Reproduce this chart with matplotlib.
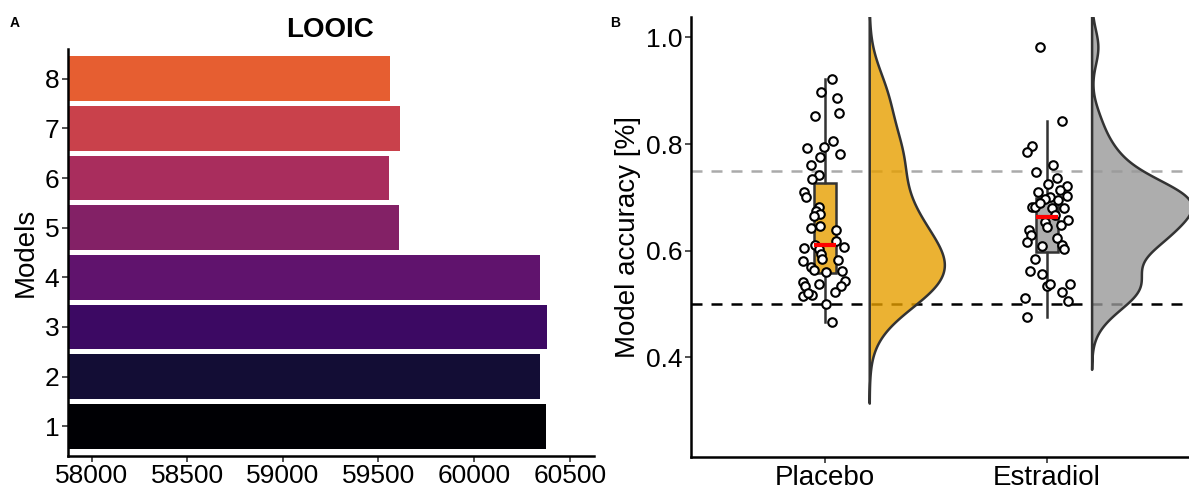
import numpy as np
import matplotlib.pyplot as plt
from matplotlib.colors import to_rgba

plt.rcParams["font.family"] = ["Liberation Sans", "DejaVu Sans"]

# --- panel A: LOOIC per model ---
models = [1, 2, 3, 4, 5, 6, 7, 8]
looic = [60377, 60344, 60383, 60344, 59606, 59555, 59611, 59560]
bar_colors = ["#000004", "#130D35", "#3C0963", "#60136D",
              "#832166", "#A92D5D", "#C9414B", "#E65E31"]

# --- panel B: model accuracy per subject ---
groups = ["Placebo", "Estradiol"]
group_colors = ["#E69F00", "#999999"]
placebo = [0.922, 0.897, 0.887, 0.859, 0.853, 0.805, 0.794, 0.793, 0.781, 0.776,
           0.761, 0.742, 0.734, 0.709, 0.700, 0.681, 0.674, 0.668, 0.665, 0.643,
           0.646, 0.639, 0.611, 0.617, 0.604, 0.603, 0.594, 0.585, 0.607, 0.581,
           0.583, 0.569, 0.564, 0.560, 0.561, 0.541, 0.534, 0.537, 0.542, 0.534,
           0.522, 0.515, 0.516, 0.520, 0.500, 0.465]
estradiol = [0.982, 0.843, 0.797, 0.785, 0.761, 0.747, 0.737, 0.725, 0.721, 0.709,
             0.713, 0.703, 0.700, 0.697, 0.695, 0.682, 0.681, 0.679, 0.679, 0.654,
             0.645, 0.648, 0.657, 0.639, 0.629, 0.616, 0.623, 0.609, 0.610, 0.602,
             0.584, 0.562, 0.556, 0.533, 0.538, 0.537, 0.522, 0.510, 0.506, 0.476,
             0.689, 0.667]
# horizontal jitter of the points
placebo_jit = [0.032, -0.016, 0.053, 0.063, -0.045, 0.038, -0.003, -0.080, 0.068, -0.023,
               -0.063, -0.024, -0.058, -0.091, -0.086, -0.028, -0.040, -0.023, -0.048, -0.063,
               -0.023, 0.052, -0.043, 0.051, -0.095, -0.027, -0.019, -0.014, 0.087, -0.099,
               0.060, -0.063, -0.048, 0.005, 0.079, -0.099, -0.088, -0.026, 0.089, 0.071,
               0.047, -0.099, -0.057, -0.075, 0.004, 0.033]
estradiol_jit = [-0.031, 0.066, -0.066, -0.089, 0.027, -0.052, 0.045, 0.002, 0.091, -0.043,
                 0.058, 0.089, 0.013, -0.011, 0.047, -0.070, -0.054, 0.020, 0.075, -0.009,
                 -0.001, 0.061, 0.094, -0.081, -0.073, -0.090, 0.045, -0.022, 0.066, 0.076,
                 -0.055, -0.076, -0.022, 0.000, 0.013, 0.101, 0.066, -0.101, 0.094, -0.092,
                 -0.031, 0.036]
# boxplot quartiles
box_q1 = [0.558, 0.598]
box_med = [0.611, 0.663]
box_q3 = [0.727, 0.699]
chance = 0.5
ref_line = 0.75


def kde_nrd0(vals):
    # gaussian density, R-style nrd0 bandwidth, untrimmed tails (cut = 3)
    v = np.asarray(vals)
    q75, q25 = np.percentile(v, [75, 25])
    bw = 0.9 * min(v.std(ddof=1), (q75 - q25) / 1.34) * len(v) ** -0.2
    grid = np.linspace(v.min() - 3 * bw, v.max() + 3 * bw, 512)
    z = (grid[:, None] - v[None, :]) / bw
    dens = np.exp(-0.5 * z ** 2).sum(axis=1) / (len(v) * bw * np.sqrt(2 * np.pi))
    return grid, dens


fig = plt.figure(figsize=(11.89, 4.90), dpi=100)

# ---------------- A ----------------
ax1 = fig.add_axes([67.6 / 1189, 1 - 456 / 490, (593.7 - 67.6) / 1189, (456 - 49) / 490])
ax1.barh(models, looic, height=0.9, color=bar_colors)
ax1.set_xlim(57875, 60625)
ax1.set_ylim(0.4, 8.6)
ax1.set_xticks([58000, 58500, 59000, 59500, 60000, 60500])
ax1.set_yticks(models)
ax1.set_ylabel("Models", fontsize=20, labelpad=4)
for s in ["top", "right"]:
    ax1.spines[s].set_visible(False)
for s in ["left", "bottom"]:
    ax1.spines[s].set_linewidth(1.8)
ax1.tick_params(labelsize=19, length=4, width=1.2, color="#333333", pad=2)

fig.text(330.5 / 1189, 1 - 30 / 490, "LOOIC", fontsize=20, fontweight="bold",
         ha="center", va="center")
fig.text(15 / 1189, 1 - 23 / 490, "A", fontsize=10, fontweight="bold", ha="center", va="center")

# ---------------- B ----------------
ax2 = fig.add_axes([691.3 / 1189, 1 - 456.7 / 490, (1189 - 691.3) / 1189, (456.7 - 16.7) / 490])
ax2.set_xlim(0.4, 2.638)
ax2.set_ylim(0.213, 1.039)

ax2.axhline(ref_line, color="#AAAAAA", lw=1.8, dashes=(4.4, 3.6), zorder=1)
ax2.axhline(chance, color="black", lw=1.8, dashes=(4.4, 3.6), zorder=1)

data = [placebo, estradiol]
jits = [placebo_jit, estradiol_jit]
kdes = [kde_nrd0(d) for d in data]
dmax = max(d.max() for _, d in kdes)

for i, (vals, jit, col, (grid, dens)) in enumerate(zip(data, jits, group_colors, kdes)):
    pos = i + 1
    # half violin, nudged right
    x0 = pos + 0.2
    ax2.fill_betweenx(grid, x0, x0 + dens / dmax * 0.45, facecolor=to_rgba(col, 0.8),
                      edgecolor="#333333", linewidth=1.8, zorder=2)

    # box with whiskers (1.5 IQR rule)
    q1, med, q3 = box_q1[i], box_med[i], box_q3[i]
    iqr = q3 - q1
    v = np.asarray(vals)
    lo = v[v >= q1 - 1.5 * iqr].min()
    hi = v[v <= q3 + 1.5 * iqr].max()
    ax2.plot([pos, pos], [lo, q1], color="#333333", lw=1.8, zorder=3)
    ax2.plot([pos, pos], [q3, hi], color="#333333", lw=1.8, zorder=3)
    ax2.bar(pos, q3 - q1, bottom=q1, width=0.1, color=to_rgba(col, 0.8),
            edgecolor="#333333", linewidth=1.8, zorder=3)

    # points
    ax2.scatter(pos + np.asarray(jit), vals, s=38, facecolor="white", edgecolor="black",
                linewidth=1.5, zorder=4)

    # median
    ax2.plot([pos - 0.05, pos + 0.05], [med, med], color="red", lw=3,
             solid_capstyle="butt", zorder=5)

ax2.set_xticks([1, 2])
ax2.set_xticklabels(groups)
ax2.set_yticks([0.4, 0.6, 0.8, 1.0])
ax2.set_yticklabels(["0.4", "0.6", "0.8", "1.0"])
ax2.set_ylabel("Model accuracy [%]", fontsize=20, labelpad=4)
for s in ["top", "right"]:
    ax2.spines[s].set_visible(False)
for s in ["left", "bottom"]:
    ax2.spines[s].set_linewidth(1.8)
ax2.tick_params(labelsize=19, length=4, width=1.2, color="#333333", pad=2)
ax2.tick_params(axis="x", labelsize=20)

fig.text(615 / 1189, 1 - 23 / 490, "B", fontsize=10, fontweight="bold", ha="center", va="center")

fig.savefig("out.png", dpi=100)
